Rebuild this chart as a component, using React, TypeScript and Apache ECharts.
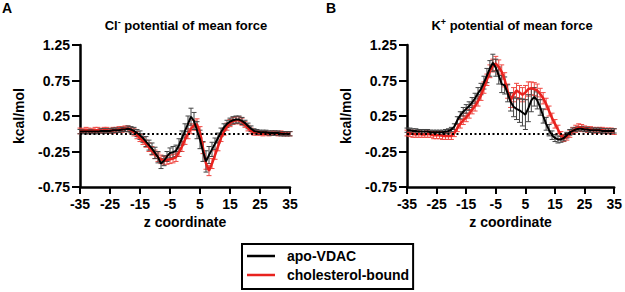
import React, { useEffect, useRef } from "react";
import * as echarts from "echarts";

// z coordinate sample positions (shared by all series)
const zValues = [
  -35, -34, -33, -32, -31, -30, -29, -28, -27, -26, -25, -24, -23, -22, -21, -20,
  -19, -18, -17, -16, -15, -14, -13, -12, -11, -10, -9, -8, -7, -6, -5,
  -4, -3, -2, -1, 0, 1, 2, 3, 4, 5, 6, 7, 8, 9, 10,
  11, 12, 13, 14, 15, 16, 17, 18, 19, 20,
  21, 22, 23, 24, 25, 26, 27, 28, 29, 30, 31, 32, 33, 34, 35,
];

// Panel A: Cl- PMF
const clApo = [
  0.03, 0.03, 0.03, 0.03, 0.03, 0.03, 0.03, 0.04, 0.04, 0.04, 0.04, 0.05, 0.05, 0.05, 0.06, 0.06,
  0.07, 0.06, 0.04, 0.01, -0.02, -0.06, -0.11, -0.16, -0.21, -0.27, -0.33, -0.42, -0.38, -0.32, -0.27,
  -0.26, -0.24, -0.16, -0.06, 0.04, 0.14, 0.24, 0.18, 0.05, -0.08, -0.25, -0.39, -0.3, -0.22, -0.14,
  -0.06, 0.02, 0.09, 0.14, 0.17, 0.19, 0.2, 0.2, 0.18, 0.15,
  0.11, 0.07, 0.04, 0.03, 0.02, 0.02, 0.02, 0.01, 0.01, 0.01, 0.01, 0.0, 0.0, 0.0, 0.0,
];
const clApoErr = [
  0.03, 0.03, 0.03, 0.03, 0.03, 0.03, 0.03, 0.03, 0.03, 0.03, 0.03, 0.03, 0.03, 0.03, 0.03, 0.03,
  0.04, 0.04, 0.05, 0.05, 0.06, 0.06, 0.07, 0.07, 0.08, 0.08, 0.08, 0.07, 0.07, 0.07, 0.07,
  0.08, 0.08, 0.09, 0.1, 0.1, 0.11, 0.12, 0.12, 0.12, 0.13, 0.14, 0.15, 0.12, 0.1, 0.08,
  0.07, 0.06, 0.05, 0.05, 0.05, 0.05, 0.05, 0.05, 0.05, 0.04,
  0.04, 0.04, 0.03, 0.03, 0.03, 0.03, 0.03, 0.03, 0.03, 0.03, 0.03, 0.03, 0.03, 0.03, 0.03,
];
const clChol = [
  0.04, 0.04, 0.05, 0.04, 0.04, 0.05, 0.05, 0.04, 0.05, 0.05, 0.04, 0.05, 0.05, 0.06, 0.06, 0.07,
  0.07, 0.05, 0.02, -0.02, -0.06, -0.1, -0.14, -0.19, -0.24, -0.29, -0.33, -0.36, -0.38, -0.37, -0.36,
  -0.35, -0.33, -0.26, -0.18, -0.08, 0.0, 0.07, 0.12, 0.13, 0.02, -0.2, -0.42, -0.52, -0.42, -0.3,
  -0.18, -0.06, 0.03, 0.1, 0.15, 0.18, 0.19, 0.19, 0.17, 0.13,
  0.08, 0.04, 0.02, 0.01, 0.01, 0.0, 0.01, 0.0, 0.01, 0.01, 0.0, 0.01, 0.0, 0.0, 0.0,
];
const clCholErr = [
  0.04, 0.03, 0.04, 0.04, 0.03, 0.04, 0.04, 0.03, 0.04, 0.04, 0.03, 0.04, 0.04, 0.04, 0.04, 0.04,
  0.04, 0.04, 0.05, 0.05, 0.05, 0.05, 0.05, 0.06, 0.06, 0.06, 0.06, 0.06, 0.06, 0.06, 0.06,
  0.06, 0.06, 0.06, 0.07, 0.07, 0.07, 0.07, 0.07, 0.08, 0.08, 0.08, 0.08, 0.07, 0.07, 0.06,
  0.06, 0.05, 0.05, 0.05, 0.05, 0.05, 0.05, 0.05, 0.05, 0.04,
  0.04, 0.04, 0.04, 0.03, 0.03, 0.03, 0.03, 0.03, 0.03, 0.03, 0.03, 0.03, 0.03, 0.03, 0.03,
];

// Panel B: K+ PMF
const kApo = [
  0.05, 0.05, 0.04, 0.04, 0.03, 0.03, 0.03, 0.03, 0.02, 0.02, 0.02, 0.02, 0.02, 0.03, 0.04, 0.06,
  0.1, 0.19, 0.26, 0.31, 0.35, 0.39, 0.44, 0.5, 0.57, 0.63, 0.72, 0.82, 0.92, 1.0, 0.93,
  0.82, 0.7, 0.68, 0.57, 0.45, 0.38, 0.35, 0.33, 0.3, 0.27, 0.36, 0.47, 0.52, 0.47, 0.37,
  0.25, 0.14, 0.05, -0.02, -0.06, -0.08, -0.08, -0.06, -0.02, 0.02,
  0.04, 0.06, 0.07, 0.07, 0.06, 0.06, 0.05, 0.05, 0.05, 0.05, 0.04, 0.04, 0.04, 0.04, 0.04,
];
const kApoErr = [
  0.03, 0.03, 0.03, 0.03, 0.03, 0.03, 0.03, 0.03, 0.03, 0.03, 0.03, 0.03, 0.03, 0.03, 0.03, 0.03,
  0.04, 0.05, 0.05, 0.06, 0.06, 0.06, 0.07, 0.07, 0.08, 0.08, 0.09, 0.1, 0.11, 0.12, 0.12,
  0.12, 0.12, 0.12, 0.12, 0.13, 0.14, 0.15, 0.17, 0.19, 0.21, 0.19, 0.16, 0.13, 0.12, 0.11,
  0.1, 0.09, 0.08, 0.06, 0.05, 0.05, 0.04, 0.04, 0.04, 0.04,
  0.04, 0.03, 0.03, 0.03, 0.03, 0.03, 0.03, 0.03, 0.03, 0.03, 0.03, 0.03, 0.03, 0.03, 0.03,
];
const kChol = [
  0.01, 0.0, 0.0, -0.01, 0.0, -0.01, -0.01, 0.0, -0.01, -0.02, -0.02, -0.02, -0.03, -0.03, -0.03, -0.03,
  0.01, 0.08, 0.14, 0.19, 0.23, 0.28, 0.34, 0.39, 0.46, 0.54, 0.65, 0.76, 0.88, 0.96, 0.99,
  0.94, 0.87, 0.76, 0.6, 0.47, 0.55, 0.61, 0.58, 0.55, 0.58, 0.63, 0.64, 0.63, 0.61, 0.56,
  0.5, 0.42, 0.32, 0.22, 0.14, 0.06, -0.02, -0.06, -0.04, 0.0,
  0.04, 0.07, 0.09, 0.08, 0.07, 0.06, 0.06, 0.05, 0.05, 0.05, 0.05, 0.04, 0.04, 0.04, 0.03,
];
const kCholErr = [
  0.04, 0.04, 0.05, 0.04, 0.05, 0.04, 0.04, 0.05, 0.04, 0.05, 0.05, 0.05, 0.05, 0.05, 0.05, 0.05,
  0.05, 0.05, 0.06, 0.06, 0.06, 0.06, 0.06, 0.07, 0.07, 0.07, 0.08, 0.08, 0.09, 0.09, 0.1,
  0.1, 0.1, 0.1, 0.1, 0.1, 0.1, 0.1, 0.1, 0.1, 0.1, 0.1, 0.09, 0.09, 0.09, 0.08,
  0.08, 0.08, 0.07, 0.07, 0.06, 0.06, 0.05, 0.05, 0.05, 0.05,
  0.05, 0.05, 0.05, 0.05, 0.04, 0.04, 0.04, 0.04, 0.04, 0.04, 0.04, 0.04, 0.04, 0.04, 0.04,
];

const seriesNames = ["apo-VDAC", "cholesterol-bound"];
const panelLetters = ["A", "B"];
const yAxisTitle = "kcal/mol";
const xAxisTitle = "z coordinate";

const BLACK = "#000000";
const RED = "#e8221e";
const FONT = "Liberation Sans, Arial, sans-serif";

function pts(vals: number[], errs: number[]) {
  return zValues.map((z, i) => [z, vals[i], errs[i]]);
}

function errSeries(name: string, idx: number, data: number[][], color: string, z: number) {
  return {
    type: "custom",
    name: name + " err",
    xAxisIndex: idx,
    yAxisIndex: idx,
    z,
    silent: true,
    data,
    renderItem: (params: any, api: any) => {
      const x = api.value(0);
      const y = api.value(1);
      const e = api.value(2);
      const top = api.coord([x, y + e]);
      const bot = api.coord([x, y - e]);
      const w = 2.5;
      const st = { stroke: color, lineWidth: 1 };
      return {
        type: "group",
        children: [
          { type: "line", shape: { x1: top[0], y1: top[1], x2: bot[0], y2: bot[1] }, style: st },
          { type: "line", shape: { x1: top[0] - w, y1: top[1], x2: top[0] + w, y2: top[1] }, style: st },
          { type: "line", shape: { x1: bot[0] - w, y1: bot[1], x2: bot[0] + w, y2: bot[1] }, style: st },
        ],
      };
    },
  };
}

function lineSeries(name: string, idx: number, vals: number[], color: string, width: number, z: number, zero: boolean) {
  const s: any = {
    type: "line",
    name,
    xAxisIndex: idx,
    yAxisIndex: idx,
    z,
    symbol: "none",
    showSymbol: false,
    data: zValues.map((zz, i) => [zz, vals[i]]),
    lineStyle: { color, width },
    itemStyle: { color },
  };
  if (zero) {
    s.markLine = {
      silent: true,
      symbol: "none",
      label: { show: false },
      lineStyle: { type: [2, 2.5], color: BLACK, width: 2 },
      data: [{ yAxis: 0 }],
    };
  }
  return s;
}

function xAxis(idx: number) {
  return {
    type: "value",
    gridIndex: idx,
    min: -35,
    max: 35,
    interval: 10,
    name: xAxisTitle,
    nameLocation: "middle",
    nameGap: 28,
    nameTextStyle: { fontFamily: FONT, fontWeight: "bold", fontSize: 14, color: BLACK },
    axisLine: { show: true, onZero: false, lineStyle: { color: BLACK, width: 2.5 } },
    axisTick: { show: true, length: 7, lineStyle: { color: BLACK, width: 2 } },
    axisLabel: { fontFamily: FONT, fontWeight: "bold", fontSize: 14, color: BLACK, margin: 10 },
    splitLine: { show: false },
  };
}

function yAxis(idx: number) {
  return {
    type: "value",
    gridIndex: idx,
    min: -0.75,
    max: 1.25,
    interval: 0.5,
    name: yAxisTitle,
    nameLocation: "middle",
    nameGap: 54,
    nameTextStyle: { fontFamily: FONT, fontWeight: "bold", fontSize: 14, color: BLACK },
    axisLine: { show: true, onZero: false, lineStyle: { color: BLACK, width: 2.5 } },
    axisTick: { show: true, length: 8, lineStyle: { color: BLACK, width: 2 } },
    axisLabel: { fontFamily: FONT, fontWeight: "bold", fontSize: 14, color: BLACK, margin: 10 },
    splitLine: { show: false },
  };
}

function titleText(x: number, main: string, sup: string) {
  return {
    type: "text",
    x,
    y: 25,
    style: {
      text: `{m|${main}}{s|${sup}}{m| potential of mean force}`,
      align: "center",
      verticalAlign: "middle",
      fill: BLACK,
      rich: {
        m: { fontFamily: FONT, fontWeight: "bold", fontSize: 13, lineHeight: 16, fill: BLACK },
        s: { fontFamily: FONT, fontWeight: "bold", fontSize: 9, lineHeight: 9, verticalAlign: "top", fill: BLACK },
      },
    },
  };
}

export default function App() {
  const ref = useRef<HTMLDivElement>(null);
  useEffect(() => {
    if (!ref.current) return;
    const chart = echarts.init(ref.current, null, { renderer: "svg" });
    const option: any = {
      animation: false,
      backgroundColor: "#ffffff",
      textStyle: { fontFamily: FONT },
      grid: [
        { left: 80, top: 45, width: 210, height: 142 },
        { left: 407, top: 45, width: 210, height: 142 },
      ],
      xAxis: [xAxis(0), xAxis(1)],
      yAxis: [yAxis(0), yAxis(1)],
      legend: {
        data: seriesNames.map((n) => ({ name: n, icon: "rect" })),
        orient: "vertical",
        left: 242,
        top: 244,
        padding: [5, 4, 7, 5],
        itemGap: 5,
        itemWidth: 28,
        itemHeight: 2.5,
        borderColor: BLACK,
        borderWidth: 2,
        borderRadius: 0,
        selectedMode: false,
        textStyle: {
          fontFamily: FONT,
          fontWeight: "bold",
          fontSize: 14,
          lineHeight: 14,
          color: BLACK,
          padding: [0, 0, 0, 7],
        },
      },
      graphic: [
        { type: "text", x: 2, y: 1, style: { text: panelLetters[0], fontFamily: FONT, fontWeight: "bold", fontSize: 14, fill: BLACK } },
        { type: "text", x: 326, y: 1, style: { text: panelLetters[1], fontFamily: FONT, fontWeight: "bold", fontSize: 14, fill: BLACK } },
        titleText(186, "Cl", "-"),
        titleText(512, "K", "+"),
      ],
      series: [
        errSeries(seriesNames[1], 0, pts(clChol, clCholErr), "#f04a44", 2),
        errSeries(seriesNames[0], 0, pts(clApo, clApoErr), "#444444", 2),
        lineSeries(seriesNames[1], 0, clChol, RED, 2.5, 3, true),
        lineSeries(seriesNames[0], 0, clApo, BLACK, 2, 4, false),
        errSeries(seriesNames[1], 1, pts(kChol, kCholErr), "#f04a44", 2),
        errSeries(seriesNames[0], 1, pts(kApo, kApoErr), "#444444", 2),
        lineSeries(seriesNames[1], 1, kChol, RED, 2.5, 3, true),
        lineSeries(seriesNames[0], 1, kApo, BLACK, 2, 4, false),
      ],
    };
    chart.setOption(option);
    return () => chart.dispose();
  }, []);
  return (
    <div
      ref={ref}
      style={{ position: "fixed", left: 0, top: 0, width: 625, height: 292, background: "#fff" }}
    />
  );
}
